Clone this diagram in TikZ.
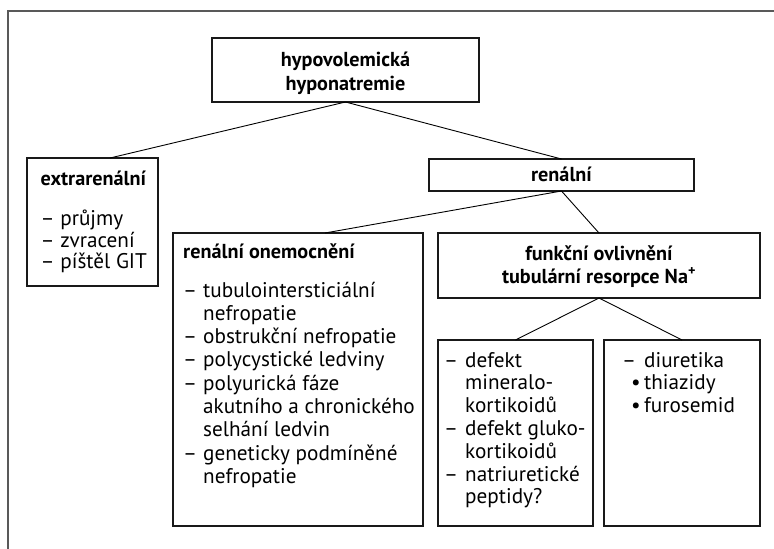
\documentclass[tikz,border=0pt]{standalone}
\usepackage{fontspec}
\setmainfont{PT Sans}
\newcommand{\fsz}{\fontsize{21.2}{23}\selectfont}
\newcommand{\fszb}{\fontsize{20.2}{23}\selectfont\bfseries}
\begin{document}
\begin{tikzpicture}[x=1pt,y=-1pt,
  box/.style={draw=black!90, line width=1.1pt, inner sep=0pt, outer sep=0pt},
  conn/.style={draw=black, line width=0.9pt},
  frame/.style={draw=black!65, line width=1.6pt},
  txt/.style={anchor=base west, inner sep=0pt, font=\fsz},
  hd/.style={anchor=base west, inner sep=0pt, font=\fszb},
  hdc/.style={anchor=base, inner sep=0pt, font=\fszb}]
\useasboundingbox (0,0) rectangle (774,549);
% outer frame
\coordinate (fa) at (774,11);
\coordinate (fb) at (8,11);
\coordinate (fc) at (8,549);
\draw[frame] (fa) -- (fb) -- (fc);
% boxes
\node[box, minimum width=267pt, minimum height=64pt] (top) at (345.5,70) {};
\node[box, minimum width=131pt, minimum height=128pt] (extra) at (92.5,222) {};
\node[box, minimum width=265pt, minimum height=32pt] (ren) at (561.5,175) {};
\node[box, minimum width=250pt, minimum height=293pt] (onem) at (298,379.5) {};
\node[box, minimum width=322pt, minimum height=65pt] (funk) at (599,265.5) {};
\node[box, minimum width=155pt, minimum height=186pt] (def) at (515.5,433) {};
\node[box, minimum width=156pt, minimum height=186pt] (diur) at (682,433) {};
% connectors
\draw[conn] (top.south) -- ([xshift=17.5pt]extra.north);
\draw[conn] (top.south) -- (ren.north);
\draw[conn] (ren.south) -- ([xshift=27pt]onem.north);
\draw[conn] (ren.south) -- (funk.north);
\draw[conn] (funk.south) -- (def.north);
\draw[conn] (funk.south) -- (diur.north);
% top box text
\node[hdc] (t1) at (345.5,66.7) {hypovolemická};
\node[hdc] (t2) at (345.5,90) {hyponatremie};
% extrarenal
\node[hd] (e0) at (40.5,185) {extrarenální};
\node[txt] (e1) at (40.5,225) {– průjmy};
\node[txt] (e2) at (40.5,247) {– zvracení};
\node[txt] (e3) at (40.5,268.5) {– píštěl GIT};
% renalni
\node[hdc] (r0) at (561.5,181.7) {renální};
% renalni onemocneni
\node[hd] (o0) at (183,258) {renální onemocnění};
\node[txt] (o1) at (183,297) {–};
\node[txt] (o1b) at (203,297) {tubulointersticiální};
\node[txt] (o2) at (203,320.3) {nefropatie};
\node[txt] (o3) at (183,343.6) {–};
\node[txt] (o3b) at (203,343.6) {obstrukční nefropatie};
\node[txt] (o4) at (183,366.9) {–};
\node[txt] (o4b) at (203,366.9) {polycystické ledviny};
\node[txt] (o5) at (183,390.2) {–};
\node[txt] (o5b) at (203,390.2) {polyurická fáze};
\node[txt] (o6) at (203,413.5) {akutního a chronického};
\node[txt] (o7) at (203,436.8) {selhání ledvin};
\node[txt] (o8) at (183,460.1) {–};
\node[txt] (o8b) at (203,460.1) {geneticky podmíněné};
\node[txt] (o9) at (203,483.4) {nefropatie};
% funkcni
\node[hdc] (f1) at (599,260) {funkční ovlivnění};
\node[hdc] (f2) at (599,283) {tubulární resorpce Na\textsuperscript{+}};
% defekt
\node[txt] (d1) at (444,367) {–};
\node[txt] (d1b) at (465,367) {defekt};
\node[txt] (d2) at (465,389.8) {mineralo-};
\node[txt] (d3) at (465,412.6) {kortikoidů};
\node[txt] (d4) at (444,435.4) {–};
\node[txt] (d4b) at (465,435.4) {defekt gluko-};
\node[txt] (d5) at (465,458.2) {kortikoidů};
\node[txt] (d6) at (444,481) {–};
\node[txt] (d6b) at (465,481) {natriuretické};
\node[txt] (d7) at (465,503.8) {peptidy?};
% diuretika
\node[txt] (u1) at (622,367) {–};
\node[txt] (u1b) at (644,367) {diuretika};
\node[txt] (u2) at (631,389.8) {•};
\node[txt] (u2b) at (644,389.8) {thiazidy};
\node[txt] (u3) at (631,412.6) {•};
\node[txt] (u3b) at (644,412.6) {furosemid};
\end{tikzpicture}
\end{document}
